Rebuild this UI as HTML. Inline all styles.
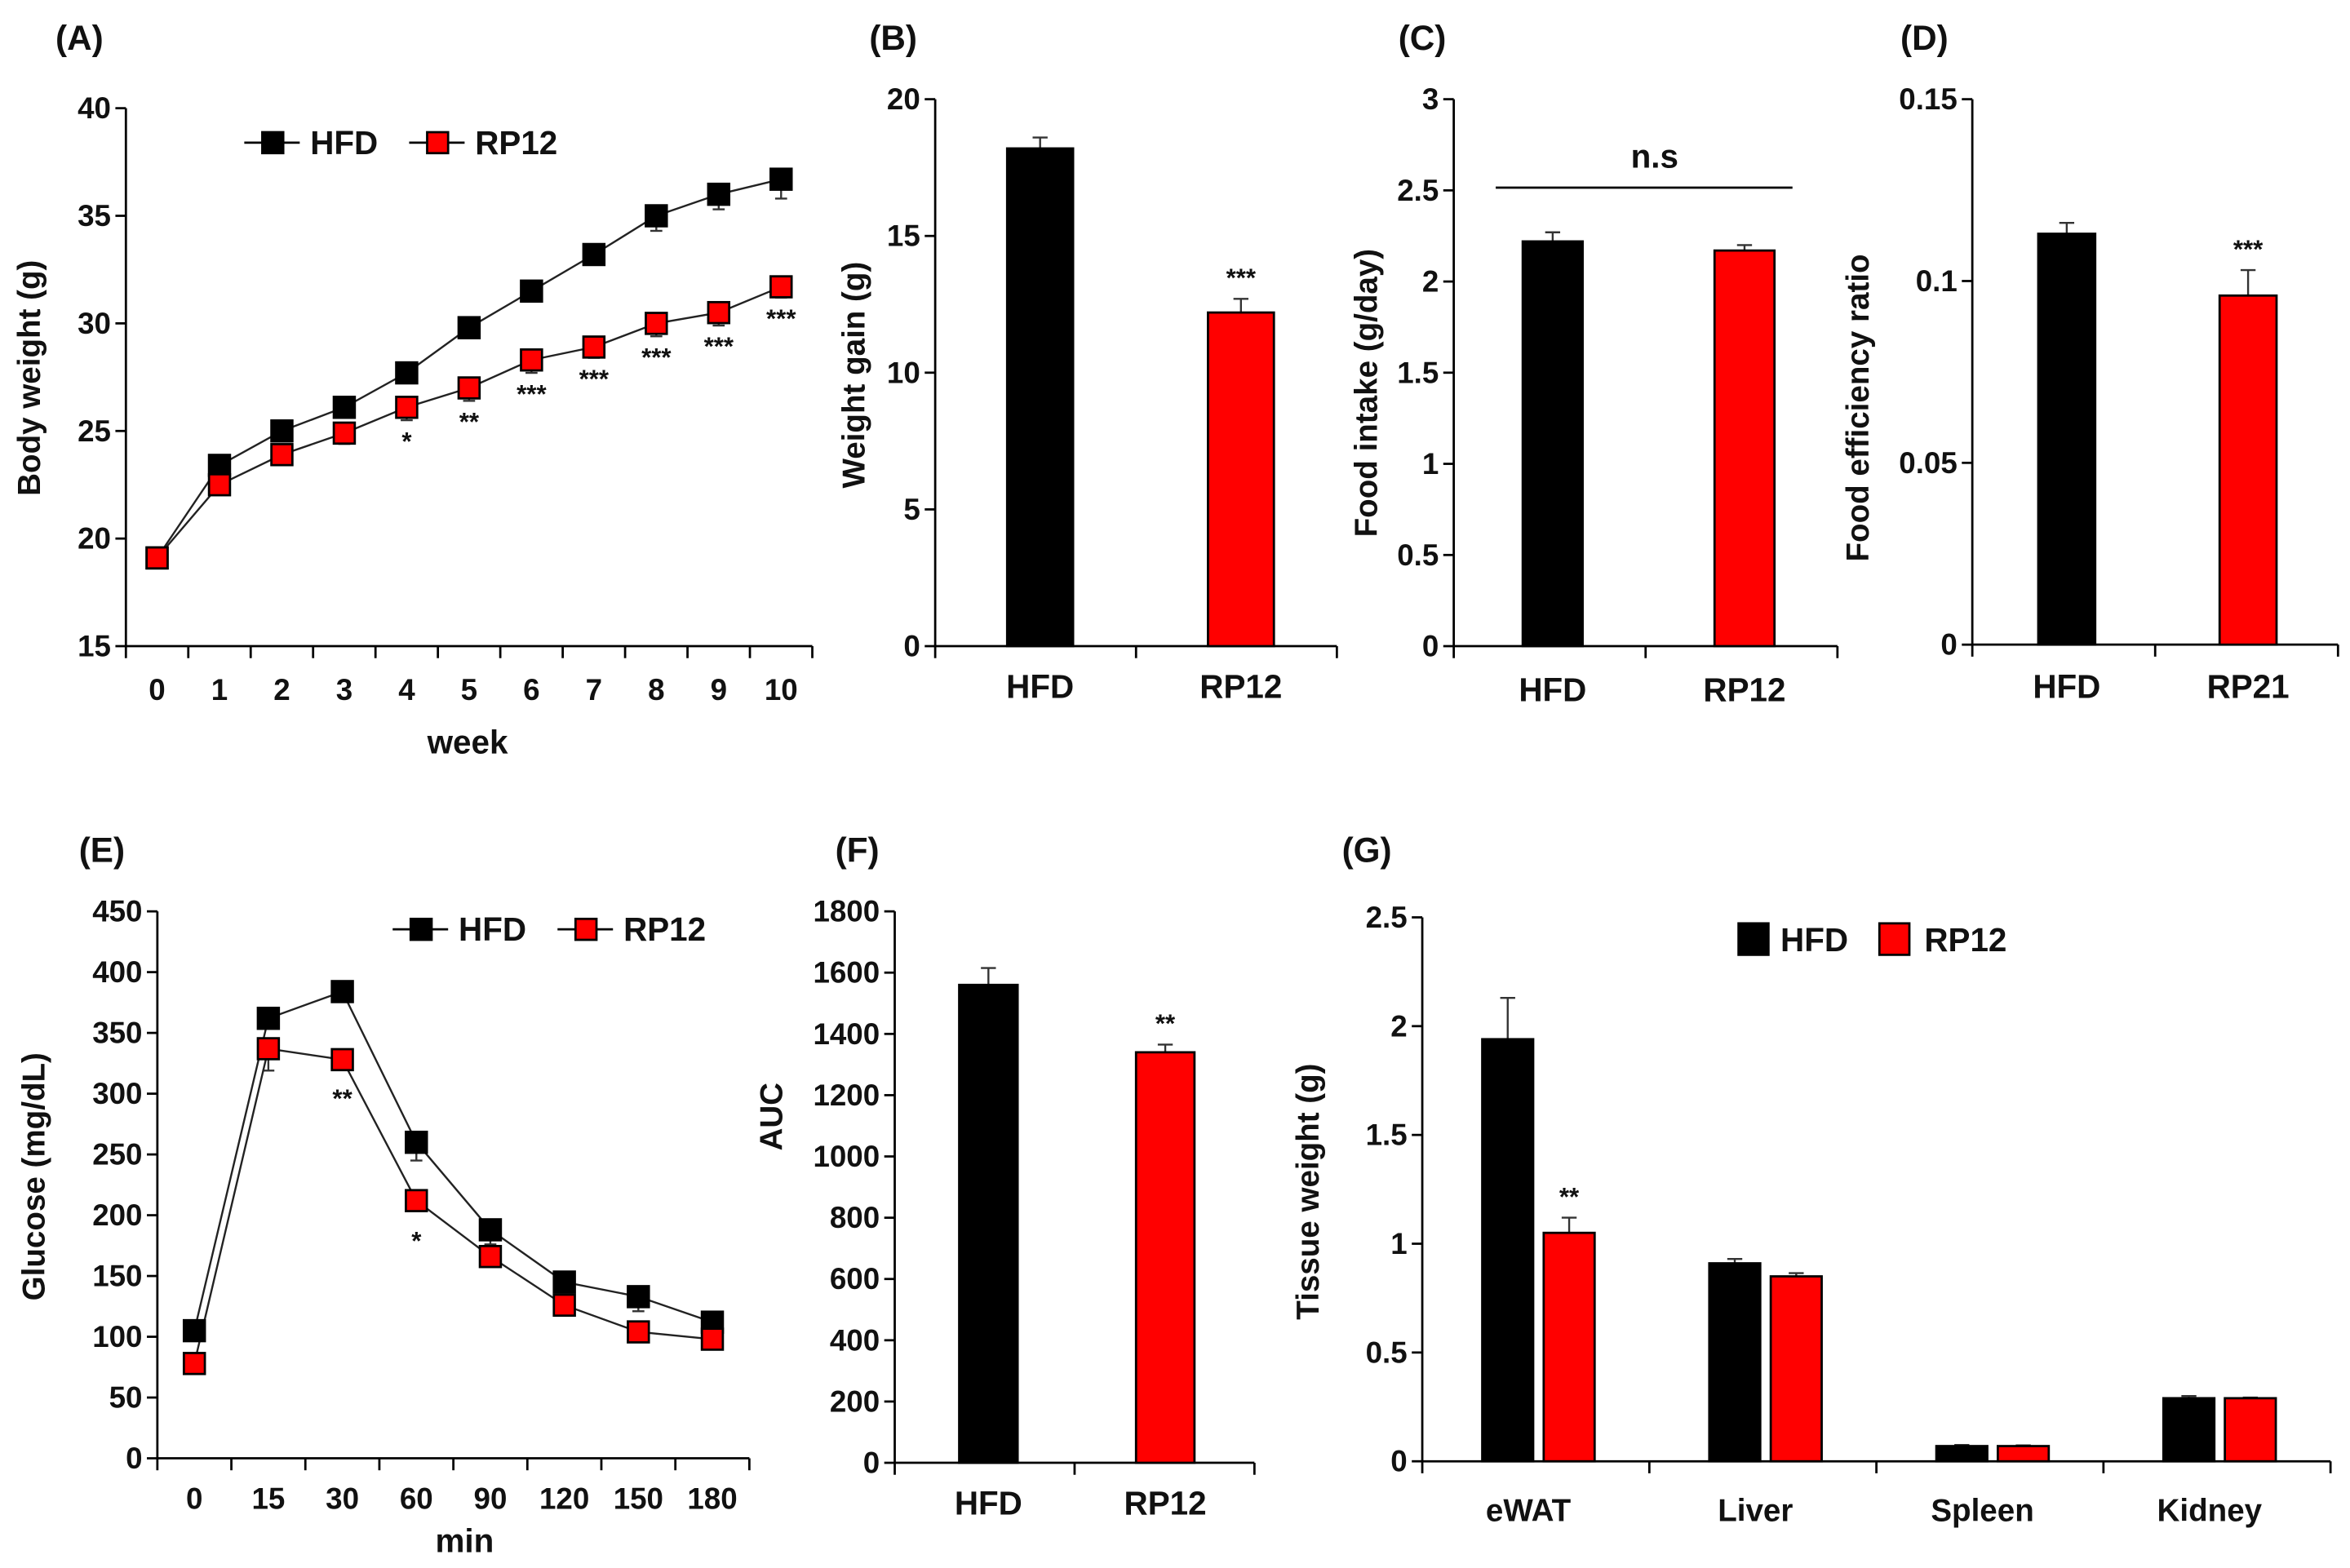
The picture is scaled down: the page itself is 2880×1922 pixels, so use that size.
<!DOCTYPE html>
<html><head><meta charset="utf-8">
<style>
html,body{margin:0;padding:0;background:#fff;}
svg{display:block;}
text{font-family:"Liberation Sans",sans-serif;font-weight:bold;fill:#111;}
.t{font-family:"Liberation Sans",sans-serif;}
</style></head>
<body>
<svg id="fig" width="2880" height="1922" viewBox="0 0 1568 1046" xmlns="http://www.w3.org/2000/svg"></svg>
<script>
// ---- Data ----
const weeks = ["0","1","2","3","4","5","6","7","8","9","10"];
const bwHFD = [19.1,23.4,25.0,26.1,27.7,29.8,31.5,33.2,35.0,36.0,36.7];
const bwHFDerr = [0.2,0.3,0.3,0.3,0.3,0.4,0.4,0.4,0.7,0.7,0.9];
const bwRP = [19.1,22.5,23.9,24.9,26.1,27.0,28.3,28.9,30.0,30.5,31.7];
const bwRPerr = [0.2,0.3,0.3,0.5,0.6,0.6,0.6,0.5,0.6,0.6,0.5];
const bwStars = ["","","","","*","**","***","***","***","***","***"];
const bwTicks = [15,20,25,30,35,40];

const groups2 = ["HFD","RP12"];
const gainVals = [18.2,12.2];
const gainErr = [0.4,0.5];
const gainTicks = [0,5,10,15,20];

const foodVals = [2.22,2.17];
const foodErr = [0.05,0.03];
const foodTicks = [0,0.5,1,1.5,2,2.5,3];

const groupsD = ["HFD","RP21"];
const ferVals = [0.113,0.096];
const ferErr = [0.003,0.007];
const ferTicks = [0,0.05,0.1,0.15];

const minutes = ["0","15","30","60","90","120","150","180"];
const gluHFD = [105,362,384,260,188,145,133,112];
const gluHFDerr = [5,8,8,15,12,6,12,5];
const gluRP = [78,337,328,212,166,126,104,98];
const gluRPerr = [4,18,5,6,5,5,5,4];
const gluStars = ["","","**","*","","","",""];
const gluTicks = [0,50,100,150,200,250,300,350,400,450];

const aucVals = [1560,1340];
const aucErr = [55,25];
const aucTicks = [0,200,400,600,800,1000,1200,1400,1600,1800];

const tissues = ["eWAT","Liver","Spleen","Kidney"];
const tisHFD = [1.94,0.91,0.07,0.29];
const tisHFDerr = [0.19,0.02,0.005,0.01];
const tisRP = [1.05,0.85,0.07,0.29];
const tisRPerr = [0.07,0.015,0.003,0.003];
const tisStars = ["**","","",""];
const tisTicks = [0,0.5,1,1.5,2,2.5];

// ---- helpers ----
const NS="http://www.w3.org/2000/svg";
const svg=document.getElementById('fig');
function el(tag,attrs,parent){const e=document.createElementNS(NS,tag);for(const k in attrs)e.setAttribute(k,attrs[k]);(parent||svg).appendChild(e);return e;}
function txt(s,x,y,size,anchor,parent,cls){const e=el('text',{x:x,y:y,'font-size':size,'text-anchor':anchor||'middle','dominant-baseline':'central'},parent);if(cls)e.setAttribute('class',cls);e.textContent=s;return e;}
function lin(x1,y1,x2,y2,w,parent,col){return el('line',{x1:x1,y1:y1,x2:x2,y2:y2,stroke:col||'#000','stroke-width':w||1.5},parent);}
function scale(d0,d1,r0,r1){return v=>r0+(v-d0)*(r1-r0)/(d1-d0);}
function yAxis(g,x,y0,y1,ticks){
  lin(x,y0,x,y1,1.5,g);
  const ys=scale(ticks[0],ticks[ticks.length-1],y0,y1);
  ticks.forEach(t=>{lin(x-7,ys(t),x,ys(t),1.5,g);const l=txt(String(t),x-10,ys(t),20,'end',g);
    
    });
  return ys;
}
function xAxis(g,x0,x1,y,n){lin(x0,y,x1,y,1.5,g);const w=(x1-x0)/n;for(let i=0;i<=n;i++)lin(x0+i*w,y,x0+i*w,y+8,1.5,g);return i=>x0+(i+0.5)*w;}
function panelLabel(s,x,y){const l=txt(s,x,y,23,'middle');}
function yTitle(g,s,x,y,size){const t=txt(s,x,y,size||21,'middle',g,'t');t.setAttribute('transform','rotate(-90 '+x+' '+y+')');}
function errBar(g,x,yv,ye,cap){lin(x,yv,x,ye,1.3,g,'#333');lin(x-cap,ye,x+cap,ye,1.3,g,'#333');}

function linePanel(name,cfg){
  const g=el('g',{});
  
  
  const ys=yAxis(g,cfg.ax,cfg.y0,cfg.y1,cfg.ticks);
  const xs=xAxis(g,cfg.ax,cfg.axEnd,cfg.y0,cfg.cats.length);
  cfg.cats.forEach((c,i)=>{const l=txt(c,xs(i),cfg.labY,20,'middle',g);
    
    });
  const series=[[cfg.h,cfg.he,'#000'],[cfg.r,cfg.re,'#ff0000']];
  series.forEach(([v,e])=>{
    v.forEach((d,i)=>errBar(g,xs(i),ys(d),ys(d-e[i]),4));
  });
  series.forEach(([v],si)=>{
    const pts=v.map((d,i)=>xs(i)+','+ys(d)).join(' ');
    const pl=el('polyline',{points:pts,fill:'none',stroke:'#222','stroke-width':1.3},g);
    
    
  });
  series.forEach(([v,e,col],si)=>{
    v.forEach((d,i)=>{const r=el('rect',{x:xs(i)-7,y:ys(d)-7,width:14,height:14,fill:col,stroke:'#000','stroke-width':1.5},g);
      
      });
  });
  cfg.stars.forEach((s,i)=>{if(!s)return;const t=txt(s,xs(i),ys(cfg.r[i]-cfg.re[i])+cfg.starOff,17,'middle',g);
    
    });
  return g;
}
function lineLegend(g,x,y){
  const items=[['HFD','#000',0],['RP12','#ff0000',110]];
  items.forEach(([s,col,dx])=>{
    const lg=el('g',{},g);
    
    
    lin(x+dx,y,x+dx+37,y,1.5,lg);
    el('rect',{x:x+dx+12,y:y-7,width:14,height:14,fill:col,stroke:'#000','stroke-width':1.5},lg);
    txt(s,x+dx+44,y,22,'start',lg);
  });
}
function twoBar(name,ax,axEnd,y0,y1,ticks,cats,vals,err,stars,bw,offs,labY){
  const g=el('g',{});
  
  
  const ys=yAxis(g,ax,y0,y1,ticks);
  const n=cats.length;const w=(axEnd-ax)/n;
  xAxis(g,ax,axEnd,y0,n);
  cats.forEach((c,i)=>{const l=txt(c,ax+i*w+offs[i]+bw/2,labY,22,'middle',g);
    
    });
  vals.forEach((v,i)=>{
    const bx=ax+i*w+offs[i];
    errBar(g,bx+bw/2,ys(v),ys(v+err[i]),5);
    const r=el('rect',{x:bx,y:ys(v),width:bw,height:y0-ys(v),fill:i?'#ff0000':'#000',stroke:'#000','stroke-width':1.5},g);
    
    
    if(stars[i]){const t=txt(stars[i],bx+bw/2,ys(v+err[i])-14,17,'middle',g);
      
      }
  });
  return g;
}

// ---- Panel A ----
panelLabel('(A)',53,25);
const gA=linePanel('body-weight-chart',{ax:84,axEnd:542,y0:431,y1:72,ticks:bwTicks,cats:weeks,labY:460,
  h:bwHFD,he:bwHFDerr,r:bwRP,re:bwRPerr,stars:bwStars,starOff:14});
lineLegend(gA,163,95);
yTitle(gA,'Body weight (g)',20,252,21);
const wk=txt('week',312,495,22,'middle',gA,'t');

// ---- Panel B ----
panelLabel('(B)',596,25);
const gB=twoBar('weight-gain-chart',624,892,431,66,gainTicks,groups2,gainVals,gainErr,['','***'],44,[48,48],458);
yTitle(gB,'Weight gain (g)',570,250,21);

// ---- Panel C ----
panelLabel('(C)',949,25);
const gC=twoBar('food-intake-chart',970,1226,431,66,foodTicks,groups2,foodVals,foodErr,['',''],40,[46,46],460);
lin(998,125,1196,125,1.5,gC);
const ns=txt('n.s',1104,104,22,'middle',gC);
yTitle(gC,'Food intake (g/day)',912,262,21);

// ---- Panel D ----
panelLabel('(D)',1284,25);
const gD=twoBar('food-efficiency-chart',1316,1560,430,66,ferTicks,groupsD,ferVals,ferErr,['','***'],38,[44,43],458);
yTitle(gD,'Food efficiency ratio',1240,272,21);

// ---- Panel E ----
panelLabel('(E)',68,567);
const gE=linePanel('glucose-chart',{ax:105,axEnd:500,y0:973,y1:608,ticks:gluTicks,cats:minutes,labY:1000,
  h:gluHFD,he:gluHFDerr,r:gluRP,re:gluRPerr,stars:gluStars,starOff:22});
lineLegend(gE,262,620);
yTitle(gE,'Glucose (mg/dL)',23,785,21);
const mn=txt('min',310,1028,22,'middle',gE,'t');

// ---- Panel F ----
panelLabel('(F)',572,567);
const gF=twoBar('auc-chart',597,837,976,608,aucTicks,groups2,aucVals,aucErr,['','**'],39,[43,41],1003);
yTitle(gF,'AUC',515,745,21);

// ---- Panel G ----
panelLabel('(G)',912,567);
const gG=el('g',{});


(function(){
  const ax=949,axEnd=1555,y0=975,y1=612;
  const ys=yAxis(gG,ax,y0,y1,tisTicks);
  const n=tissues.length;const w=(axEnd-ax)/n;
  xAxis(gG,ax,axEnd,y0,n);
  tissues.forEach((c,i)=>{const l=txt(c,ax+i*w+w/2-5,1008,21,'middle',gG);
    
    });
  const ser=[[tisHFD,tisHFDerr,'#000',40,'hfd',[]],[tisRP,tisRPerr,'#ff0000',81,'rp12',tisStars]];
  ser.forEach(([vals,err,col,off,nm,st])=>{
    vals.forEach((v,i)=>{
      const bx=ax+i*w+off;
      errBar(gG,bx+17,ys(v),ys(v+err[i]),5);
      const r=el('rect',{x:bx,y:ys(v),width:34,height:y0-ys(v),fill:col,stroke:'#000','stroke-width':1.5},gG);
      
      
      if(st[i]){const t=txt(st[i],bx+17,ys(v+err[i])-14,17,'middle',gG);
        
        }
    });
  });
  const l1=el('g',{},gG);
  
  
  el('rect',{x:1160,y:616,width:20,height:21,fill:'#000',stroke:'#000','stroke-width':1.5},l1);
  txt('HFD',1188,627,22,'start',l1);
  const l2=el('g',{},gG);
  
  
  el('rect',{x:1254,y:616,width:20,height:21,fill:'#ff0000',stroke:'#000','stroke-width':1.5},l2);
  txt('RP12',1284,627,22,'start',l2);
})();
yTitle(gG,'Tissue weight (g)',873,795,21);
</script>
</body></html>
